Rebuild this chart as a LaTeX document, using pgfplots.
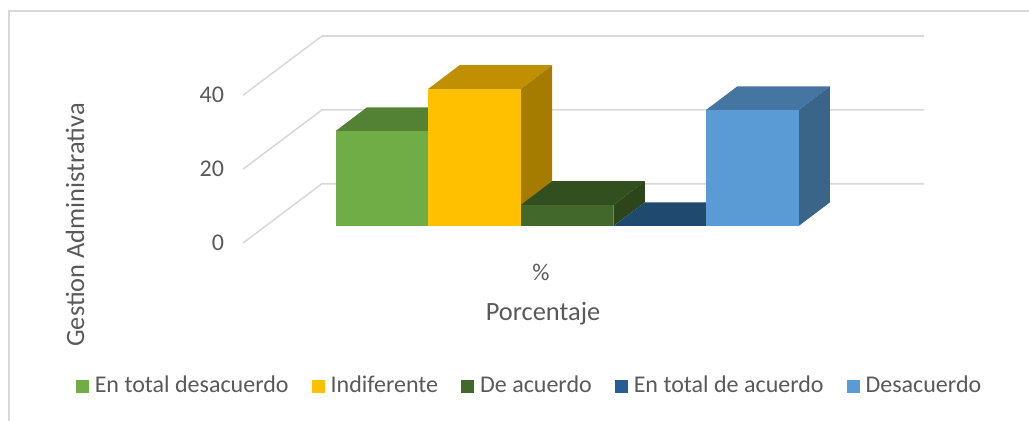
\documentclass[border=0pt]{standalone}
\usepackage{pgfplots}
\pgfplotsset{compat=1.18}
\usepackage{fontspec}
\setmainfont{Carlito}
\definecolor{txt}{HTML}{595959}
\definecolor{gridc}{HTML}{D9D9D9}
\definecolor{gF}{HTML}{70AD47}\definecolor{gT}{HTML}{548235}\definecolor{gS}{HTML}{4B7530}
\definecolor{yF}{HTML}{FFC000}\definecolor{yT}{HTML}{C09000}\definecolor{yS}{HTML}{A67C00}
\definecolor{dF}{HTML}{43682B}\definecolor{dT}{HTML}{324F20}\definecolor{dS}{HTML}{2C4519}
\definecolor{bL}{HTML}{255E91}\definecolor{bT}{HTML}{1F4A6E}
\definecolor{lF}{HTML}{5B9BD5}\definecolor{lT}{HTML}{4576A2}\definecolor{lS}{HTML}{3A6488}
\begin{document}
\begin{tikzpicture}
\path[use as bounding box] (0pt,0pt) rectangle (514.5pt,-210pt);
\draw[gridc, line width=1pt] (4.5pt,-212pt) -- (4.5pt,-5.5pt) -- (516pt,-5.5pt);
\begin{axis}[
  at={(121.5pt,-121.5pt)}, anchor=south west,
  scale only axis, width=340.5pt, height=103.5pt,
  xmin=-0.5, xmax=6.853, ymin=-4.62, ymax=51.41,
  clip=false,
  axis line style={draw=none}, major tick length=0pt,
  xtick={2.717}, xticklabels={\%},
  ytick={-4.62,15.38,35.38}, yticklabels={0,20,40},
  /pgf/number format/assume math mode=true,
  yticklabel style={font=\fontsize{12}{14}\selectfont, text=txt, xshift=-6pt},
  xticklabel style={font=\fontsize{12}{14}\selectfont, text=txt, yshift=-7pt},
  xlabel={Porcentaje},
  xlabel style={at={(axis description cs:0.4405,-0.343)}, anchor=center, font=\fontsize{13.2}{16}\selectfont, text=txt},
  ylabel={Gestion Administrativa},
  ylabel style={at={(axis description cs:-0.2467,0.087)}, anchor=center, font=\fontsize{13.2}{16}\selectfont, text=txt},
  legend columns=5,
  legend style={at={(axis description cs:0.4222,-0.6908)}, anchor=center, draw=none, fill=none,
    font=\fontsize{12}{14}\selectfont, text=txt,
    /tikz/every odd column/.append style={column sep=1pt},
    /tikz/every even column/.append style={column sep=9.5pt}},
  legend image code/.code={\fill[#1] (0pt,-3.25pt) rectangle (6.5pt,3.25pt);},
]
% gridlines (floor/back wall)
\addplot[gridc, line width=0.8pt, forget plot] coordinates {(-0.5,-4.62)(0.352,11.41)(6.853,11.41)};
\addplot[gridc, line width=0.8pt, forget plot] coordinates {(-0.5,15.38)(0.352,31.41)(6.853,31.41)};
\addplot[gridc, line width=0.8pt, forget plot] coordinates {(-0.5,35.38)(0.352,51.41)(6.853,51.41)};
% En total desacuerdo = 25.7
\addplot[fill=gT, draw=none, forget plot] coordinates {(0.5,25.7)(1.5,25.7)(1.838,32.1)(0.838,32.1)} -- cycle;
\addplot[fill=gS, draw=none, forget plot] coordinates {(1.5,0)(1.838,6.4)(1.838,32.1)(1.5,25.7)} -- cycle;
\addplot[fill=gF, draw=none, forget plot] coordinates {(0.5,0)(1.5,0)(1.5,25.7)(0.5,25.7)} -- cycle;
% Indiferente = 37.1
\addplot[fill=yT, draw=none, forget plot] coordinates {(1.5,37.1)(2.5,37.1)(2.838,43.5)(1.838,43.5)} -- cycle;
\addplot[fill=yS, draw=none, forget plot] coordinates {(2.5,0)(2.838,6.4)(2.838,43.5)(2.5,37.1)} -- cycle;
\addplot[fill=yF, draw=none, forget plot] coordinates {(1.5,0)(2.5,0)(2.5,37.1)(1.5,37.1)} -- cycle;
% De acuerdo = 5.7
\addplot[fill=dT, draw=none, forget plot] coordinates {(2.5,5.7)(3.5,5.7)(3.838,12.1)(2.838,12.1)} -- cycle;
\addplot[fill=dS, draw=none, forget plot] coordinates {(3.5,0)(3.838,6.4)(3.838,12.1)(3.5,5.7)} -- cycle;
\addplot[fill=dF, draw=none, forget plot] coordinates {(2.5,0)(3.5,0)(3.5,5.7)(2.5,5.7)} -- cycle;
% En total de acuerdo = 0
\addplot[fill=bT, draw=none, forget plot] coordinates {(3.5,0)(4.5,0)(4.838,6.4)(3.838,6.4)} -- cycle;
% Desacuerdo = 31.4
\addplot[fill=lT, draw=none, forget plot] coordinates {(4.5,31.4)(5.5,31.4)(5.838,37.8)(4.838,37.8)} -- cycle;
\addplot[fill=lS, draw=none, forget plot] coordinates {(5.5,0)(5.838,6.4)(5.838,37.8)(5.5,31.4)} -- cycle;
\addplot[fill=lF, draw=none, forget plot] coordinates {(4.5,0)(5.5,0)(5.5,31.4)(4.5,31.4)} -- cycle;
% legend
\addlegendimage{fill=gF, draw=none}\addlegendentry{En total desacuerdo}
\addlegendimage{fill=yF, draw=none}\addlegendentry{Indiferente}
\addlegendimage{fill=dF, draw=none}\addlegendentry{De acuerdo}
\addlegendimage{fill=bL, draw=none}\addlegendentry{En total de acuerdo}
\addlegendimage{fill=lF, draw=none}\addlegendentry{Desacuerdo}
\end{axis}
\end{tikzpicture}
\end{document}
